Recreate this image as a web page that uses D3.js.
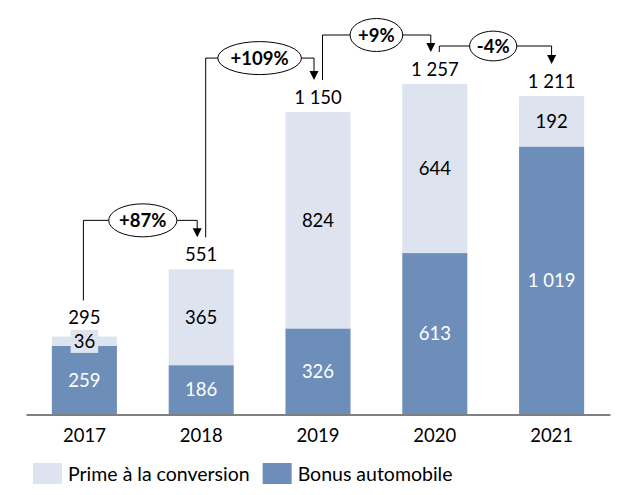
<!DOCTYPE html>
<html>
<head>
<meta charset="utf-8">
<script src="https://cdn.jsdelivr.net/npm/d3@7"></script>
<style>
  body { margin: 0; background: #fff; }
  svg { display: block; font-family: Lato, "Open Sans", sans-serif; }
</style>
</head>
<body>
<svg id="chart" width="618" height="495"></svg>
<script>
// Data
const years = ['2017', '2018', '2019', '2020', '2021'];
const bonus = [259, 186, 326, 613, 1019];   // Bonus automobile
const prime = [36, 365, 824, 644, 192];     // Prime à la conversion
const totals = [295, 551, 1150, 1257, 1211];
const changes = ['+87%', '+109%', '+9%', '-4%'];
const seriesNames = ['Prime à la conversion', 'Bonus automobile'];

// Connector tweaks (pixel offsets, as drawn in the original)
const startDx = [-1, 4.5, 4.5, 4.5];
const endDx = [-4, -4, -4, 0];
const lift = [17, 22, 17, 6];

const colors = { prime: '#DDE4EF', bonus: '#6E8EBA' };
const fontSize = 18.5;

const fr = d3.formatLocale({ decimal: ',', thousands: ' ', grouping: [3], currency: ['', ' €'] });
const fmt = fr.format(',d');

const svg = d3.select('#chart');

const x = d3.scaleBand()
  .domain(years)
  .range([26, 610])
  .paddingInner(0.443)
  .paddingOuter(0.2215);

const y = d3.scaleLinear()
  .domain([0, d3.max(totals)])
  .range([414, 84]);

const rows = years.map((yr, i) => ({ year: yr, bonus: bonus[i], prime: prime[i], total: totals[i] }));
const stacked = d3.stack().keys(['bonus', 'prime'])(rows);

// Bars
const layers = svg.append('g').selectAll('g')
  .data(stacked)
  .join('g')
    .attr('fill', d => colors[d.key]);

layers.selectAll('rect')
  .data(d => d)
  .join('rect')
    .attr('x', d => x(d.data.year))
    .attr('width', x.bandwidth())
    .attr('y', d => y(d[1]))
    .attr('height', d => y(d[0]) - y(d[1]));

// Axis
const axis = svg.append('g')
  .attr('transform', 'translate(0,414.5)')
  .call(d3.axisBottom(x).tickSize(0).tickSizeOuter(0).tickPadding(14));
axis.select('.domain').attr('stroke', '#000').attr('stroke-width', 1);
axis.selectAll('.tick text')
  .attr('font-size', fontSize)
  .attr('font-family', 'Lato, sans-serif')
  .attr('fill', '#000');

// Segment labels
const cx = yr => x(yr) + x.bandwidth() / 2;

svg.append('g').selectAll('text')
  .data(stacked[0])
  .join('text')
    .attr('x', d => cx(d.data.year))
    .attr('y', d => (y(d[0]) + y(d[1])) / 2)
    .attr('dy', '0.36em')
    .attr('text-anchor', 'middle')
    .attr('font-size', fontSize)
    .attr('fill', '#fff')
    .text(d => fmt(d.data.bonus));

const primeG = svg.append('g');
const boxTops = [];
stacked[1].forEach((d, i) => {
  const g = primeG.append('g');
  const t = g.append('text')
    .attr('x', cx(d.data.year))
    .attr('y', (y(d[0]) + y(d[1])) / 2)
    .attr('dy', '0.36em')
    .attr('text-anchor', 'middle')
    .attr('font-size', fontSize)
    .attr('fill', '#000')
    .text(fmt(d.data.prime));
  const bb = t.node().getBBox();
  g.insert('rect', 'text')
    .attr('x', bb.x - 3)
    .attr('y', bb.y)
    .attr('width', bb.width + 6)
    .attr('height', bb.height + 1)
    .attr('fill', colors.prime);
  boxTops[i] = bb.y;
});

// Total labels
const totalY = rows.map((r, i) => Math.min(y(r.total) - 15, boxTops[i] - 12.5));

svg.append('g').selectAll('text')
  .data(rows)
  .join('text')
    .attr('x', d => cx(d.year))
    .attr('y', (d, i) => totalY[i])
    .attr('dy', '0.36em')
    .attr('text-anchor', 'middle')
    .attr('font-size', fontSize)
    .attr('fill', '#000')
    .text(d => fmt(d.total));

// Growth connectors
const ann = svg.append('g');
changes.forEach((label, i) => {
  const x0 = cx(years[i]) + startDx[i];
  const x1 = cx(years[i + 1]) + endDx[i];
  const y0 = totalY[i] - 17;
  const tip = totalY[i + 1] - 17;
  const level = Math.min(y0, tip) - lift[i];

  ann.append('path')
    .attr('d', `M${x0},${y0}V${level}H${x1}V${tip - 8}`)
    .attr('fill', 'none')
    .attr('stroke', '#000')
    .attr('stroke-width', 1);

  ann.append('path')
    .attr('d', `M${x1 - 4.5},${tip - 9}L${x1 + 4.5},${tip - 9}L${x1},${tip}Z`)
    .attr('fill', '#000');

  const mx = (cx(years[i]) + cx(years[i + 1])) / 2;
  const e = ann.append('ellipse')
    .attr('cx', mx)
    .attr('cy', level)
    .attr('fill', '#fff')
    .attr('stroke', '#000')
    .attr('stroke-width', 1);

  const t = ann.append('text')
    .attr('x', mx)
    .attr('y', level)
    .attr('dy', '0.36em')
    .attr('text-anchor', 'middle')
    .attr('font-size', fontSize)
    .attr('font-weight', 'bold')
    .attr('fill', '#000')
    .text(label);

  const w = t.node().getComputedTextLength();
  const rx = w * 0.72;
  e.attr('rx', rx).attr('ry', Math.min(16.5, rx * 0.63));
});

// Legend
const legend = svg.append('g').attr('transform', 'translate(33,463)');
let lx = 0;
[['prime', seriesNames[0]], ['bonus', seriesNames[1]]].forEach(([key, name]) => {
  legend.append('rect')
    .attr('x', lx).attr('y', 0)
    .attr('width', 29).attr('height', 21)
    .attr('fill', colors[key]);
  const t = legend.append('text')
    .attr('x', lx + 35)
    .attr('y', 10.5)
    .attr('dy', '0.36em')
    .attr('font-size', 19.5)
    .attr('fill', '#000')
    .text(name);
  lx += 35 + t.node().getComputedTextLength() + 13;
});
</script>
</body>
</html>
